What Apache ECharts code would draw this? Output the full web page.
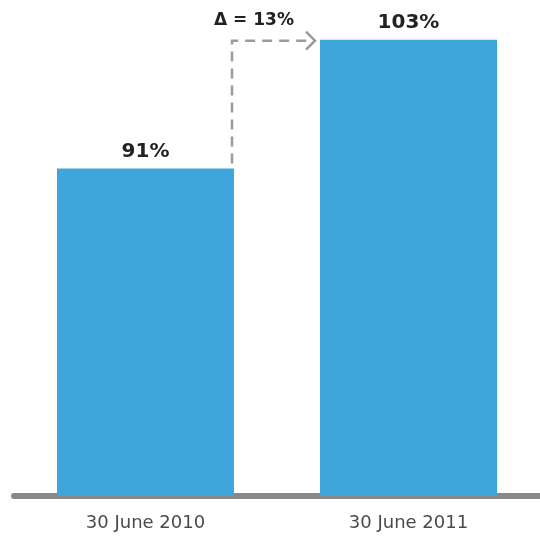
<!DOCTYPE html>
<html><head><meta charset="utf-8">
<script src="https://cdn.jsdelivr.net/npm/echarts@6/dist/echarts.min.js"></script>
<style>html,body{margin:0;padding:0;background:#fff}#c{width:540px;height:539px}</style>
</head><body><div id="c"></div>
<script>
const categories = ['30 June 2010', '30 June 2011'];
const values = [91, 103];
const valueLabels = ['91%', '103%'];
const deltaLabel = 'Δ = 13%';

const chart = echarts.init(document.getElementById('c'));
const BAR_W = 177;
const option = {
  animation: false,
  grid: { left: 14, right: -3, top: 0, bottom: 43 },
  xAxis: {
    type: 'category', data: categories,
    axisLine: { lineStyle: { color: '#88878c', width: 6 } },
    axisTick: { show: false },
    axisLabel: { color: '#4a4a4a', fontSize: 18, fontFamily: 'DejaVu Sans', margin: 18 }
  },
  yAxis: { type: 'value', min: 60.5, max: 106.7, show: false, splitLine: { show: false } },
  series: [{
    type: 'bar', data: values, barWidth: BAR_W, z: 1,
    itemStyle: { color: '#3ea6db' },
    label: {
      show: true, position: 'top', distance: 7,
      formatter: p => valueLabels[p.dataIndex],
      color: '#222', fontSize: 20, fontWeight: 'bold', fontFamily: 'DejaVu Sans'
    }
  }]
};
chart.setOption(option);

const p1 = chart.convertToPixel({ seriesIndex: 0 }, [0, values[0]]);
const p2 = chart.convertToPixel({ seriesIndex: 0 }, [1, values[1]]);
const x1 = p1[0] + BAR_W / 2 - 2;
const leftBar2 = p2[0] - BAR_W / 2;
const yTop = p2[1] + 1;
const dashStyle = { stroke: '#9b9b9b', lineWidth: 2.5, lineDash: [10, 7] };
chart.setOption({
  graphic: [
    { type: 'polyline', shape: { points: [[x1, p1[1] - 5], [x1, yTop], [leftBar2 - 10, yTop]] }, style: dashStyle, z: 10 },
    { type: 'polyline', shape: { points: [[leftBar2 - 14, yTop - 9], [leftBar2 - 5, yTop], [leftBar2 - 14, yTop + 9]] }, style: { stroke: '#9b9b9b', lineWidth: 2.5, fill: null }, z: 10 },
    { type: 'text', x: (x1 + leftBar2) / 2 - 22, y: yTop - 20, style: { text: deltaLabel, fill: '#222', font: 'bold 17px "DejaVu Sans"', textAlign: 'center', textVerticalAlign: 'middle' }, z: 10 }
  ]
});
</script></body></html>
